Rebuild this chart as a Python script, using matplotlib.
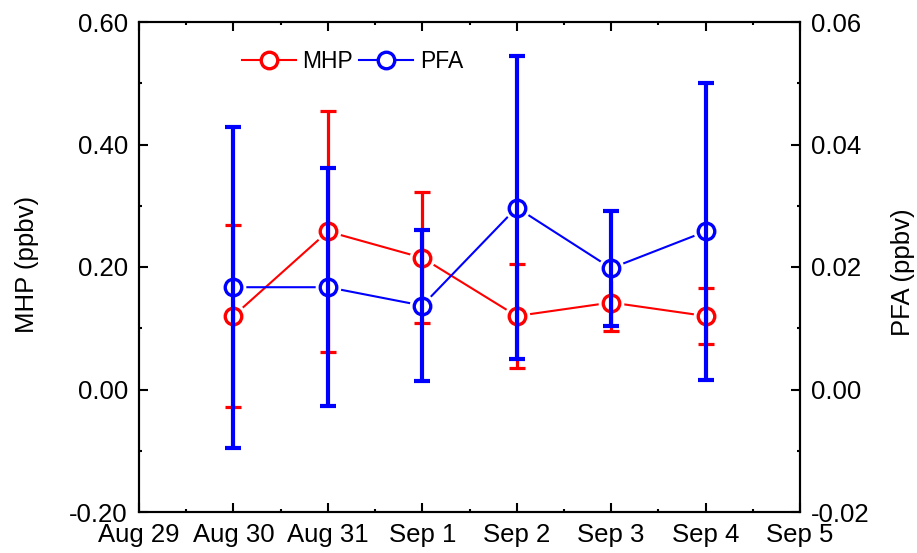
import matplotlib
matplotlib.use("Agg")
import matplotlib.pyplot as plt
from matplotlib.ticker import MultipleLocator, FormatStrFormatter, FixedLocator
from matplotlib.lines import Line2D

plt.rcParams['font.family'] = ['Liberation Sans', 'DejaVu Sans']

tick_labels = ["Aug 29", "Aug 30", "Aug 31", "Sep 1", "Sep 2", "Sep 3", "Sep 4", "Sep 5"]
dates = ["Aug 30", "Aug 31", "Sep 1", "Sep 2", "Sep 3", "Sep 4"]
mhp = [0.120, 0.258, 0.215, 0.120, 0.142, 0.120]
mhp_err = [0.148, 0.196, 0.107, 0.085, 0.047, 0.046]
pfa = [0.0167, 0.0167, 0.0137, 0.0297, 0.0198, 0.0258]
pfa_err = [0.0262, 0.0194, 0.0123, 0.0248, 0.0094, 0.0242]

x = [tick_labels.index(d) for d in dates]
xt = list(range(len(tick_labels)))

fig = plt.figure(figsize=(9.17, 5.53), dpi=100)
ax1 = fig.add_axes([139/917, 1-512/553, 661/917, 490/553])
ax2 = ax1.twinx()

FS = 18.5
MS = 11.9
MEW = 2.4

def draw(ax, y, err, color, elw, z):
    ax.plot(x, y, '-', color=color, lw=1.5, zorder=z)
    ax.plot(x, y, 'o', ms=18.5, mfc='white', mec='white', mew=0, zorder=z+0.1)
    ax.errorbar(x, y, yerr=err, fmt='none', ecolor=color, elinewidth=elw,
                capsize=6, capthick=elw, zorder=z+0.2)
    ax.plot(x, y, 'o', ms=MS, mfc='none', mec=color, mew=MEW, zorder=z+0.3)

draw(ax1, mhp, mhp_err, '#ff0000', 2.3, 2)
draw(ax2, pfa, pfa_err, '#0000ff', 3.0, 2)

ax1.set_xlim(0, 7)
ax1.xaxis.set_major_locator(FixedLocator(xt))
ax1.set_xticklabels(tick_labels)
ax1.xaxis.set_minor_locator(MultipleLocator(0.5))

ax1.set_ylim(-0.2, 0.6)
ax1.yaxis.set_major_locator(MultipleLocator(0.2))
ax1.yaxis.set_minor_locator(MultipleLocator(0.1))
ax1.yaxis.set_major_formatter(FormatStrFormatter('%.2f'))

ax2.set_ylim(-0.02, 0.06)
ax2.yaxis.set_major_locator(MultipleLocator(0.02))
ax2.yaxis.set_minor_locator(MultipleLocator(0.01))
ax2.yaxis.set_major_formatter(FormatStrFormatter('%.2f'))

for ax in (ax1, ax2):
    for s in ax.spines.values():
        s.set_linewidth(1.5)
ax1.tick_params(axis='x', which='both', direction='in', top=True, bottom=True, labelsize=FS, pad=8, width=1.5)
ax1.tick_params(axis='y', which='both', direction='in', left=True, right=False, labelsize=FS, pad=8, width=1.5)
ax2.tick_params(axis='y', which='both', direction='in', labelsize=FS, pad=8, width=1.5)
for ax in (ax1, ax2):
    ax.tick_params(which='major', length=6.5)
    ax.tick_params(which='minor', length=2.5)

ax1.set_ylabel("MHP (ppbv)", fontsize=FS)
ax1.yaxis.set_label_coords(-0.152, 0.505)
ax2.set_ylabel("PFA (ppbv)", fontsize=FS)
ax2.yaxis.set_label_coords(1.138, 0.49)

handles = [Line2D([], [], color='#ff0000', lw=1.5, marker='o', ms=MS, mfc='white', mec='#ff0000', mew=MEW),
           Line2D([], [], color='#0000ff', lw=1.5, marker='o', ms=MS, mfc='white', mec='#0000ff', mew=MEW)]
leg = fig.legend(handles, ["MHP", "PFA"], loc='center left',
                 bbox_to_anchor=(241.7/917, 1-61.7/553), ncol=2, frameon=False,
                 fontsize=16.5, handlelength=2.35, handletextpad=0.3, columnspacing=0.26,
                 borderpad=0, borderaxespad=0)

fig.savefig("out.png", dpi=100)
